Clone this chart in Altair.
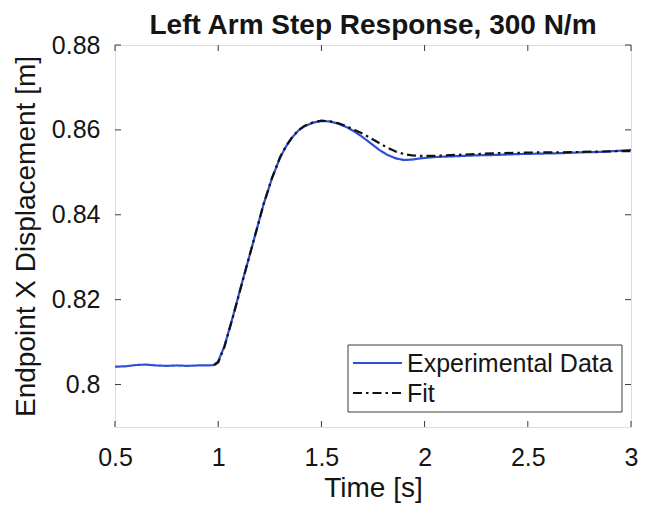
import altair as alt
import pandas as pd

# ---- data ----
series_names = ["Experimental Data", "Fit"]

exp_t = [0.50, 0.55, 0.60, 0.65, 0.70, 0.75, 0.80, 0.85, 0.90, 0.95, 0.98, 1.00,
         1.03, 1.07, 1.12, 1.17, 1.22, 1.26, 1.30, 1.33, 1.36, 1.39, 1.42, 1.46,
         1.50, 1.54, 1.58, 1.62, 1.66, 1.70, 1.74, 1.78, 1.82, 1.86, 1.90, 1.94,
         1.98, 2.05, 2.15, 2.25, 2.35, 2.45, 2.55, 2.65, 2.75, 2.85, 2.95, 3.00]
exp_v = [0.8042, 0.8043, 0.8046, 0.8047, 0.8045, 0.8044, 0.8045, 0.8044, 0.8045, 0.8045, 0.8046, 0.8055,
         0.8090, 0.8158, 0.8248, 0.8336, 0.8425, 0.8485, 0.8535, 0.8562, 0.8583, 0.8599, 0.8609, 0.8617,
         0.8621, 0.8620, 0.8615, 0.8607, 0.8596, 0.8583, 0.8568, 0.8553, 0.8541, 0.8533, 0.8529, 0.8530,
         0.8533, 0.8536, 0.8538, 0.8540, 0.8541, 0.8543, 0.8544, 0.8545, 0.8547, 0.8548, 0.8551, 0.8553]

fit_t = [0.98, 1.00, 1.03, 1.07, 1.12, 1.17, 1.22, 1.26, 1.30, 1.33, 1.36, 1.39,
         1.42, 1.46, 1.50, 1.54, 1.58, 1.62, 1.66, 1.70, 1.74, 1.78, 1.82, 1.86,
         1.90, 1.94, 1.98, 2.05, 2.15, 2.25, 2.35, 2.45, 2.55, 2.65, 2.75, 2.85,
         2.95, 3.00]
fit_v = [0.8046, 0.8052, 0.8089, 0.8157, 0.8247, 0.8336, 0.8425, 0.8486, 0.8536, 0.8563, 0.8584, 0.8600,
         0.8610, 0.8618, 0.8622, 0.8620, 0.8616, 0.8609, 0.8600, 0.8591, 0.8580, 0.8569, 0.8558, 0.8549,
         0.8543, 0.8540, 0.8539, 0.8539, 0.8541, 0.8543, 0.8545, 0.8546, 0.8547, 0.8547, 0.8548, 0.8549,
         0.8550, 0.8550]

x_ticks = [0.5, 1.0, 1.5, 2.0, 2.5, 3.0]
y_ticks = [0.80, 0.82, 0.84, 0.86, 0.88]
x_domain = [0.5, 3.0]
y_domain = [0.79, 0.88]

df = pd.concat([
    pd.DataFrame({"t": exp_t, "v": exp_v, "s": series_names[0]}),
    pd.DataFrame({"t": fit_t, "v": fit_v, "s": series_names[1]}),
], ignore_index=True)
df["o"] = range(len(df))

W, H = 516, 382
FONT = "Liberation Sans"
INK = "#151515"
BOX = "#3a3a3a"

xs = alt.Scale(domain=x_domain, nice=False, zero=False)
ys = alt.Scale(domain=y_domain, nice=False, zero=False)

x_axis = alt.Axis(
    values=x_ticks, format="~g", title="Time [s]", grid=False, domain=False,
    ticks=False, tickSize=0, labelPadding=18, labelFontSize=25, labelFont=FONT,
    labelColor=INK, titleFontSize=28, titleFont=FONT, titleFontWeight="normal",
    titleColor=INK, titleX=W / 2, titleY=69, titleBaseline="alphabetic",
    titleAlign="center", labelFlush=False)
y_axis = alt.Axis(
    values=y_ticks, format="~g", title="Endpoint X Displacement [m]", grid=False,
    domain=False, ticks=False, tickSize=0, labelPadding=15, labelFontSize=25,
    labelFont=FONT, labelColor=INK, titleFontSize=28, titleFont=FONT,
    titleFontWeight="normal", titleColor=INK, titleX=-81, titleY=H / 2,
    titleAngle=-90, titleBaseline="alphabetic", titleAlign="center",
    labelFlush=False)

color_scale = alt.Scale(domain=series_names, range=["#2f4fd6", "#111111"])
dash_scale = alt.Scale(domain=series_names, range=[[1, 0], [9, 4, 2.5, 4]])

lines = alt.Chart(df).mark_line(strokeWidth=2.2, clip=True).encode(
    x=alt.X("t:Q", scale=xs, axis=x_axis),
    y=alt.Y("v:Q", scale=ys, axis=y_axis),
    color=alt.Color("s:N", scale=color_scale, legend=None),
    strokeDash=alt.StrokeDash("s:N", scale=dash_scale, legend=None),
    order="o:Q",
)

yt = pd.DataFrame({"v": y_ticks})
xt = pd.DataFrame({"t": x_ticks})
tick_len = 6

left_ticks = alt.Chart(yt).mark_rule(color=BOX, strokeWidth=1).encode(
    y=alt.Y("v:Q", scale=ys, axis=y_axis), x=alt.value(0), x2=alt.value(tick_len))
right_ticks = alt.Chart(yt).mark_rule(color=BOX, strokeWidth=1).encode(
    y=alt.Y("v:Q", scale=ys, axis=y_axis), x=alt.value(W - tick_len), x2=alt.value(W))
bottom_ticks = alt.Chart(xt).mark_rule(color=BOX, strokeWidth=1).encode(
    x=alt.X("t:Q", scale=xs, axis=x_axis), y=alt.value(H - tick_len), y2=alt.value(H))
top_ticks = alt.Chart(xt).mark_rule(color=BOX, strokeWidth=1).encode(
    x=alt.X("t:Q", scale=xs, axis=x_axis), y=alt.value(0), y2=alt.value(tick_len))

# ---- legend box drawn in the plot's top-left-relative pixel frame ----
leg_df = pd.DataFrame({"s": series_names})
LX0, LX1, LY0, LY1 = 233, 507, 300, 367
ROW_Y = [318, 348]
SYM_X0, SYM_X1, TXT_X = 238, 287, 292

legend_box = alt.Chart(leg_df.head(1)).mark_rect(
    fill="white", stroke=BOX, strokeWidth=1).encode(
    x=alt.value(LX0), x2=alt.value(LX1), y=alt.value(LY0), y2=alt.value(LY1))

legend_layers = [legend_box]
for i, name in enumerate(series_names):
    sub = alt.Chart(leg_df).transform_filter(alt.datum.s == name)
    legend_layers.append(sub.mark_rule(strokeWidth=2.2).encode(
        x=alt.value(SYM_X0), x2=alt.value(SYM_X1), y=alt.value(ROW_Y[i]),
        color=alt.Color("s:N", scale=color_scale, legend=None),
        strokeDash=alt.StrokeDash("s:N", scale=dash_scale, legend=None)))
    legend_layers.append(sub.mark_text(
        align="left", baseline="middle", font=FONT, fontSize=25, color=INK).encode(
        x=alt.value(TXT_X), y=alt.value(ROW_Y[i] + 1), text="s:N"))

chart = alt.layer(left_ticks, right_ticks, bottom_ticks, top_ticks, lines, *legend_layers).properties(
    width=W, height=H,
    title=alt.TitleParams("Left Arm Step Response, 300 N/m", font=FONT, fontSize=28,
                          fontWeight="bold", color=INK, anchor="middle", offset=-7),
    autosize=alt.AutoSizeParams(type="none"),
    padding={"left": 107, "top": 37, "right": 8, "bottom": 76},
).configure_view(stroke=BOX, strokeWidth=1.2).configure(background="white")

chart.save("out.html", embed_options={"renderer": "svg", "actions": False})
